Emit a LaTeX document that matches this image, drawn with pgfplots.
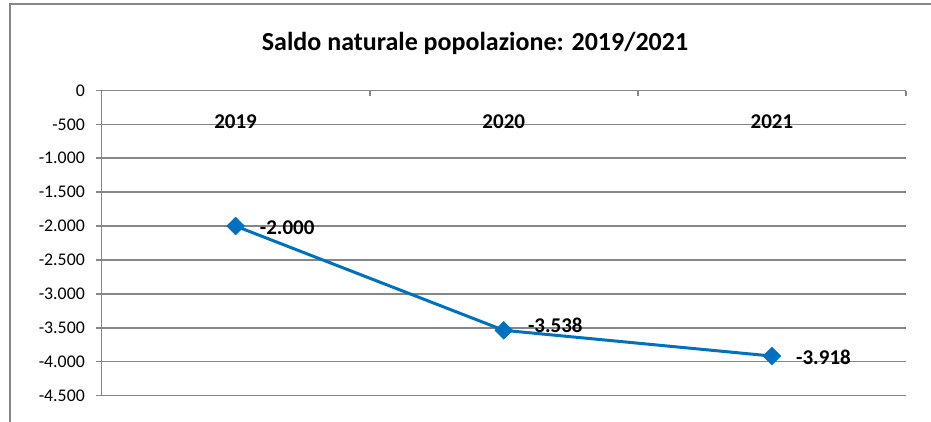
\documentclass[border=0pt]{standalone}
\usepackage{pgfplots}
\pgfplotsset{compat=1.18}
\usepackage{fontspec}
\setmainfont{Carlito}
\definecolor{gridgray}{RGB}{134,134,134}
\definecolor{xlblue}{RGB}{0,112,192}
\pgfplotstableread{
x y dy
0 -2000 -1.5
1 -3538 5
2 -3918 -1.5
}\saldo
\begin{document}
\begin{tikzpicture}
\useasboundingbox (0,0) rectangle (931pt,421pt);
\draw[gridgray, line width=2pt] (10pt,-2pt) -- (10pt,417pt) -- (935pt,417pt);
\node[anchor=base, font=\fontsize{26}{31}\selectfont\bfseries] at (475pt,370pt) {Saldo naturale popolazione: 2019/2021};
\begin{axis}[
  at={(101.5pt,25.5pt)}, anchor=south west,
  scale only axis, width=804.5pt, height=305pt,
  xmin=-0.5, xmax=2.5, ymin=-4500, ymax=0,
  axis x line*=top, axis y line*=left,
  axis line style={draw=gridgray, line width=1.7pt},
  xtick={0,1,2}, xticklabels={2019,2020,2021},
  major x tick style={draw=none},
  minor xtick={-0.5,0.5,1.5,2.5},
  tick align=outside,
  major tick length=5pt,
  minor tick length=-5pt,
  tick style={draw=gridgray, line width=1.7pt},
  ytick={-4500,-4000,...,0},
  ymajorgrids,
  grid style={draw=gridgray, line width=1.7pt},
  xticklabel style={anchor=center, inner sep=0pt, yshift=-36pt, font=\fontsize{21}{25}\selectfont\bfseries},
  yticklabel style={anchor=east, inner sep=0pt, xshift=-11.5pt, font=\fontsize{17.8}{21}\selectfont},
  /pgf/number format/assume math mode=true,
  /pgf/number format/1000 sep={.},
  clip=false,
]
\addplot[color=xlblue, line width=3pt, mark=square*, mark size=6.3pt,
  mark options={rotate=45, fill=xlblue, draw=xlblue, line width=0.5pt},
  visualization depends on={\thisrow{dy} \as \dy},
  nodes near coords,
  every node near coord/.append style={anchor=west, inner sep=0pt, xshift=24pt, yshift=\dy pt, text=black, font=\fontsize{21}{25}\selectfont\bfseries},
] table[x=x, y=y] {\saldo};
\end{axis}
\end{tikzpicture}
\end{document}
